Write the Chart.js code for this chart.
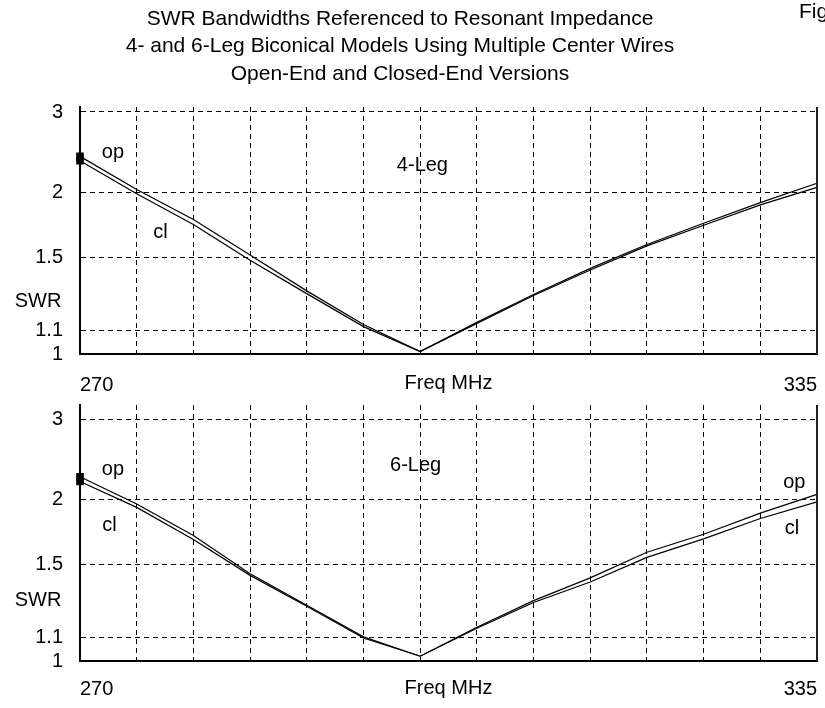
<!DOCTYPE html>
<html>
<head>
<meta charset="utf-8">
<script src="https://cdn.jsdelivr.net/npm/chart.js@4.4.1/dist/chart.umd.min.js"></script>
<style>
  html, body { margin: 0; padding: 0; background: #fff; }
  #wrap { position: relative; width: 825px; height: 708px; overflow: hidden; }
  canvas { position: absolute; left: 0; }
  #topCanvas { top: 0; }
  #bottomCanvas { top: 380px; }
</style>
</head>
<body>
<div id="wrap">
  <canvas id="topCanvas" width="825" height="396"></canvas>
  <canvas id="bottomCanvas" width="825" height="328"></canvas>
</div>
<script>
// frequency points, MHz
const freqs = [270, 275, 280, 285, 290, 295, 300, 305, 310, 315, 320, 325, 330, 335];

// SWR
const leg4Open   = [2.38, 2.03, 1.77, 1.515, 1.30, 1.13, 1.01, 1.14, 1.28, 1.43, 1.585, 1.74, 1.91, 2.09];
const leg4Closed = [2.33, 1.99, 1.73, 1.48, 1.285, 1.12, 1.01, 1.135, 1.275, 1.42, 1.575, 1.725, 1.89, 2.05];
const leg6Open   = [2.23, 1.96, 1.70, 1.44, 1.26, 1.105, 1.02, 1.15, 1.285, 1.415, 1.58, 1.71, 1.88, 2.05];
const leg6Closed = [2.18, 1.93, 1.67, 1.43, 1.255, 1.10, 1.02, 1.145, 1.275, 1.39, 1.545, 1.675, 1.835, 1.98];

const swrTicks = [1, 1.1, 1.5, 2, 3];
const swrTickLabels = ["1", "1.1", "1.5", "2", "3"];
const freqTickLabels = ["270", "335"];

const titleLines = [
  "SWR Bandwidths Referenced to Resonant Impedance",
  "4- and 6-Leg Biconical Models Using Multiple Center Wires",
  "Open-End and Closed-End Versions"
];

// SWR axis is drawn on a reflection-coefficient scale
const rho = s => (s - 1) / (s + 1);

const FONT = "Liberation Sans, Arial, sans-serif";

const textPlugin = {
  id: "textPlugin",
  afterDatasetsDraw(chart, args, opts) {
    const { ctx, chartArea } = chart;
    const x = chart.scales.x, y = chart.scales.y;
    ctx.save();
    ctx.fillStyle = "#000";
    ctx.textBaseline = "middle";
    ctx.font = "20px " + FONT;
    // right frame line
    ctx.strokeStyle = "#222";
    ctx.lineWidth = 2;
    ctx.beginPath();
    ctx.moveTo(chartArea.right, chartArea.top);
    ctx.lineTo(chartArea.right, chartArea.bottom);
    ctx.stroke();

    opts.notes.forEach(n => {
      ctx.textAlign = "center";
      ctx.fillText(n[0], x.getPixelForValue(n[1]), y.getPixelForValue(rho(n[2])));
    });
    ctx.textAlign = "center";
    ctx.fillText("SWR", chartArea.left - 42, y.getPixelForValue(rho(opts.swrAt)));
    ctx.fillText("Freq MHz", (chartArea.left + chartArea.right) / 2, chartArea.bottom + opts.labelGap);

    if (opts.title) {
      ctx.font = "21px " + FONT;
      titleLines.forEach((t, i) => ctx.fillText(t, 400, 19 + i * 27.5));
      ctx.textAlign = "left";
      ctx.fillText("Fig", 799, 12);
    }
    ctx.restore();
  }
};

function makeChart(id, openVals, closedVals, yMax, labelPad, plug) {
  const mk = (vals) => freqs.map((f, i) => ({ x: f, y: rho(vals[i]) }));
  const lineSet = (vals) => ({
    data: mk(vals),
    borderColor: "#000",
    backgroundColor: "#000",
    borderWidth: 1.2,
    pointStyle: "rect",
    pointRadius: c => c.dataIndex === 0 ? 4.5 : 0,
    clip: 8,
    tension: 0
  });
  return new Chart(document.getElementById(id), {
    type: "line",
    data: { datasets: [lineSet(openVals), lineSet(closedVals)] },
    options: {
      responsive: false,
      animation: false,
      events: [],
      layout: { padding: { top: plug.top, right: 8, left: 0, bottom: 0 } },
      plugins: { legend: { display: false }, tooltip: { enabled: false }, textPlugin: plug },
      scales: {
        x: {
          type: "linear", min: 270, max: 335,
          afterFit: s => { s.height = plug.axisH; s.paddingLeft = 0; s.paddingRight = 0; },
          ticks: {
            stepSize: 5, autoSkip: false, maxRotation: 0, align: "inner",
            padding: labelPad, color: "#000", font: { family: FONT, size: 20 },
            callback: v => freqTickLabels.includes(String(v)) ? String(v) : ""
          },
          grid: { color: "#000", lineWidth: 1, drawTicks: false },
          border: { display: true, color: "#000", width: 2, dash: [5, 4] }
        },
        y: {
          type: "linear", min: 0, max: yMax,
          afterFit: s => { s.width = 80; s.paddingTop = 0; s.paddingBottom = 0; },
          afterBuildTicks: s => { s.ticks = swrTicks.map(v => ({ value: rho(v) })); },
          ticks: {
            padding: 17, color: "#000", font: { family: FONT, size: 20 },
            callback: (v, i) => swrTickLabels[i]
          },
          grid: { color: "#000", lineWidth: 1, drawTicks: false },
          border: { display: true, color: "#000", width: 2, dash: [5, 4] }
        }
      }
    },
    plugins: [textPlugin]
  });
}

makeChart("topCanvas", leg4Open, leg4Closed, 0.5103, 19, {
  top: 107, axisH: 42, labelGap: 29, swrAt: 1.246, title: true,
  notes: [["op", 272.9, 2.43], ["cl", 277.1, 1.674], ["4-Leg", 300.2, 2.28]]
});
makeChart("bottomCanvas", leg6Open, leg6Closed, 0.529, 16, {
  top: 25, axisH: 47, labelGap: 27, swrAt: 1.288, title: false,
  notes: [["op", 272.9, 2.315], ["cl", 272.6, 1.774], ["6-Leg", 299.6, 2.36],
          ["op", 333.0, 2.17], ["cl", 332.8, 1.758]]
});
</script>
</body>
</html>
